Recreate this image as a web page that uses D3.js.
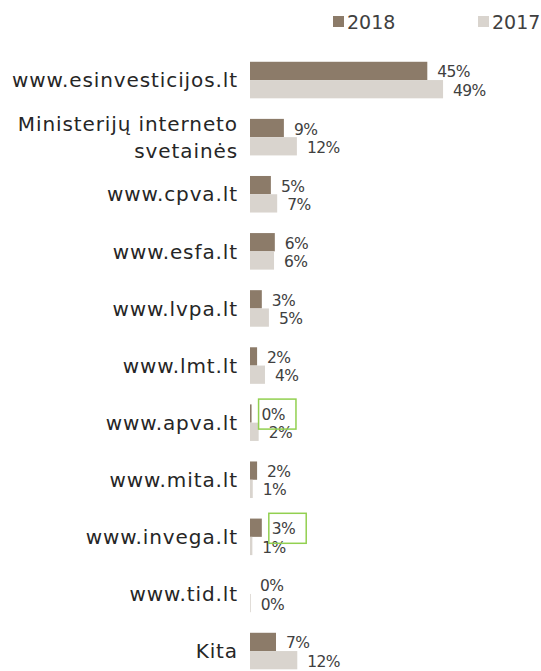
<!DOCTYPE html>
<html>
<head>
<meta charset="utf-8">
<script src="https://cdn.jsdelivr.net/npm/d3@7"></script>
<style>
  body { margin: 0; background: #fff; }
  text { font-family: "DejaVu Sans", sans-serif; }
</style>
</head>
<body>
<script>
const w = 541, h = 671

// categories, top to bottom
const categories = [
  "www.esinvesticijos.lt", "Ministerijų interneto\nsvetainės", "www.cpva.lt",
  "www.esfa.lt", "www.lvpa.lt", "www.lmt.lt", "www.apva.lt", "www.mita.lt",
  "www.invega.lt", "www.tid.lt", "Kita"
]
const series = ["2018", "2017"]
const v2018 = [45, 8.6, 5.3, 6.3, 3, 1.8, 0.4, 1.8, 3, 0, 6.6]
const v2017 = [49, 11.9, 6.9, 6.1, 4.8, 3.8, 2.2, 0.7, 0.6, 0.2, 12]
// labels boxed in green in the original
const highlighted = [["www.apva.lt", "2018"], ["www.invega.lt", "2018"]]

const colors = { "2018": "#8c7b69", "2017": "#d9d4ce" }

const rows = categories.map((c, i) => ({ cat: c, vals: { "2018": v2018[i], "2017": v2017[i] } }))

const svg = d3.select("body").append("svg")
  .attr("width", w).attr("height", h)

const x = d3.scaleLinear().domain([0, 50]).range([250, 447])
const y = d3.scaleBand().domain(categories)
  .range([51.5, 679.6]).paddingInner(0.36).paddingOuter(0.18)
const ys = d3.scaleBand().domain(series).range([0, y.bandwidth()])

const g = svg.selectAll("g.row").data(rows).enter().append("g")
  .attr("class", "row")
  .attr("transform", d => `translate(0,${y(d.cat)})`)

g.selectAll("rect").data(d => series.map(s => ({ s, v: d.vals[s] })))
  .enter().append("rect")
  .attr("x", x(0))
  .attr("y", d => ys(d.s))
  .attr("width", d => x(d.v) - x(0))
  .attr("height", ys.bandwidth())
  .attr("fill", d => colors[d.s])

g.selectAll("text.val").data(d => series.map(s => ({ s, v: d.vals[s], cat: d.cat })))
  .enter().append("text")
  .attr("class", "val")
  .attr("x", d => x(d.v) + 10)
  .attr("y", d => ys(d.s) + ys.bandwidth() / 2 + 1)
  .attr("dy", "0.36em")
  .attr("font-size", 15.5)
  .attr("letter-spacing", -0.6)
  .attr("fill", "#404040")
  .text(d => Math.round(d.v) + "%")
  .each(function (d) {
    if (!highlighted.some(p => p[0] === d.cat && p[1] === d.s)) return
    const b = this.getBBox()
    d3.select(this.parentNode).append("rect")
      .attr("x", b.x - 3).attr("y", b.y - 7)
      .attr("width", b.width + 14).attr("height", b.height + 12)
      .attr("fill", "none").attr("stroke", "#92d050").attr("stroke-width", 1.5)
  })

// category labels
g.append("text")
  .attr("x", 238)
  .attr("y", y.bandwidth() / 2)
  .attr("text-anchor", "end")
  .attr("font-size", 20)
  .attr("letter-spacing", 0.9)
  .attr("fill", "#262626")
  .each(function (d) {
    const lines = d.cat.split("\n")
    const t = d3.select(this)
    lines.forEach((l, i) => {
      t.append("tspan").attr("x", 238)
        .attr("dy", i === 0 ? (0.36 - (lines.length - 1) * 0.67) + "em" : "1.35em")
        .text(l)
    })
  })

// legend
const leg = svg.append("g").selectAll("g").data(series).enter().append("g")
  .attr("transform", (d, i) => `translate(${[333, 478][i]},0)`)
leg.append("rect").attr("x", 0).attr("y", 16).attr("width", 11).attr("height", 11)
  .attr("fill", d => colors[d])
leg.append("text").attr("x", 14).attr("y", 22).attr("dy", "0.36em")
  .attr("font-size", 19).attr("fill", "#404040").text(d => d)
</script>
</body>
</html>
